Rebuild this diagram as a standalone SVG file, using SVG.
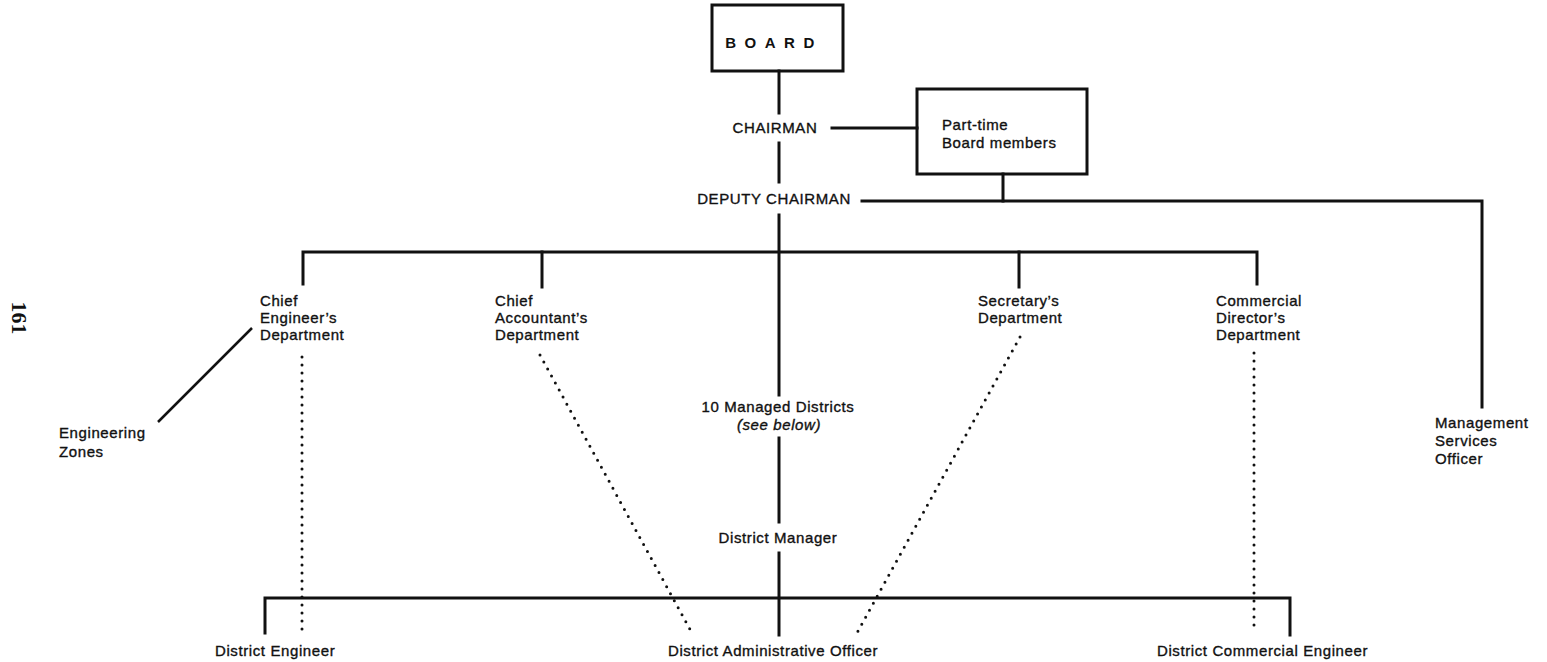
<svg xmlns="http://www.w3.org/2000/svg" width="1547" height="662" viewBox="0 0 1547 662">
  <style>
    .bg { fill: #ffffff; }
    .box { fill: none; stroke: #111; stroke-width: 3; }
    .ln { fill: none; stroke: #111; stroke-width: 3; stroke-linecap: square; }
    .thin { fill: none; stroke: #111; stroke-width: 2.5; }
    .dot { fill: none; stroke: #111; stroke-width: 3; stroke-linecap: round; stroke-dasharray: 0 8; }
    .t { font-family: "Liberation Sans", Arial, sans-serif; font-size: 15px; letter-spacing: 0.6px; fill: #111; stroke: #111; stroke-width: 0.35px; }
    .c { text-anchor: middle; }
    .it { font-style: italic; }
    .board { font-family: "Liberation Sans", Arial, sans-serif; font-size: 15px; font-weight: bold; letter-spacing: 8.5px; fill: #111; text-anchor: middle; }
    .page { font-family: "Liberation Serif", "Times New Roman", serif; font-size: 22px; font-weight: bold; fill: #111; text-anchor: middle; }
  </style>

  <rect class="bg" x="0" y="0" width="1547" height="662"/>

  <!-- page number printed sideways in the margin -->
  <text class="page" transform="translate(12,318) rotate(90)">161</text>

  <!-- reporting lines -->
  <g id="connectors">
    <!-- board / chairman / deputy spine -->
    <path class="ln" d="M779,71 V113"/>
    <path class="ln" d="M832,128 H917"/>
    <path class="ln" d="M779,143 V182"/>
    <path class="ln" d="M862,201 H1482 V407"/>
    <path class="ln" d="M1003,174 V201"/>
    <path class="ln" d="M779,215 V395"/>
    <!-- departments bus -->
    <path class="ln" d="M303,284 V252 H1257 V284"/>
    <path class="ln" d="M542,252 V287"/>
    <path class="ln" d="M1019,252 V287"/>
    <!-- district line -->
    <path class="ln" d="M779,438 V522"/>
    <path class="ln" d="M779,553 V635"/>
    <path class="ln" d="M265,633 V598 H1290 V635"/>
    <!-- engineering zones -->
    <path class="thin" d="M252,328 L158,422"/>
    <!-- functional (dotted) links -->
    <path class="dot" d="M302,357 V633"/>
    <path class="dot" d="M1254,353 V632"/>
    <path class="dot" d="M540,355 L692,633"/>
    <path class="dot" d="M1020,337 L857,633"/>
  </g>

  <g id="board">
    <rect class="box" x="712" y="5" width="131" height="66"/>
    <text class="board" x="774" y="48">BOARD</text>
  </g>

  <g id="chairman">
    <text class="t c" x="775" y="133">CHAIRMAN</text>
  </g>

  <g id="part-time-members">
    <rect class="box" x="917" y="89" width="170" height="85"/>
    <text class="t" x="942" y="130">Part-time</text>
    <text class="t" x="942" y="148">Board members</text>
  </g>

  <g id="deputy-chairman">
    <text class="t c" x="774" y="204">DEPUTY CHAIRMAN</text>
  </g>

  <g id="chief-engineer">
    <text class="t" x="260" y="306">Chief</text>
    <text class="t" x="260" y="323">Engineer’s</text>
    <text class="t" x="260" y="340">Department</text>
  </g>

  <g id="chief-accountant">
    <text class="t" x="495" y="306">Chief</text>
    <text class="t" x="495" y="323">Accountant’s</text>
    <text class="t" x="495" y="340">Department</text>
  </g>

  <g id="secretary">
    <text class="t" x="978" y="306">Secretary’s</text>
    <text class="t" x="978" y="323">Department</text>
  </g>

  <g id="commercial-director">
    <text class="t" x="1216" y="306">Commercial</text>
    <text class="t" x="1216" y="323">Director’s</text>
    <text class="t" x="1216" y="340">Department</text>
  </g>

  <g id="management-services">
    <text class="t" x="1435" y="428">Management</text>
    <text class="t" x="1435" y="446">Services</text>
    <text class="t" x="1435" y="464">Officer</text>
  </g>

  <g id="engineering-zones">
    <text class="t" x="59" y="438">Engineering</text>
    <text class="t" x="59" y="457">Zones</text>
  </g>

  <g id="managed-districts">
    <text class="t c" x="778" y="412">10 Managed Districts</text>
    <text class="t c it" x="779" y="430">(see below)</text>
  </g>

  <g id="district-manager">
    <text class="t c" x="778" y="543">District Manager</text>
  </g>

  <g id="district-engineer">
    <text class="t" x="215" y="656">District Engineer</text>
  </g>

  <g id="district-admin-officer">
    <text class="t" x="668" y="656">District Administrative Officer</text>
  </g>

  <g id="district-commercial-engineer">
    <text class="t" x="1157" y="656">District Commercial Engineer</text>
  </g>
</svg>
